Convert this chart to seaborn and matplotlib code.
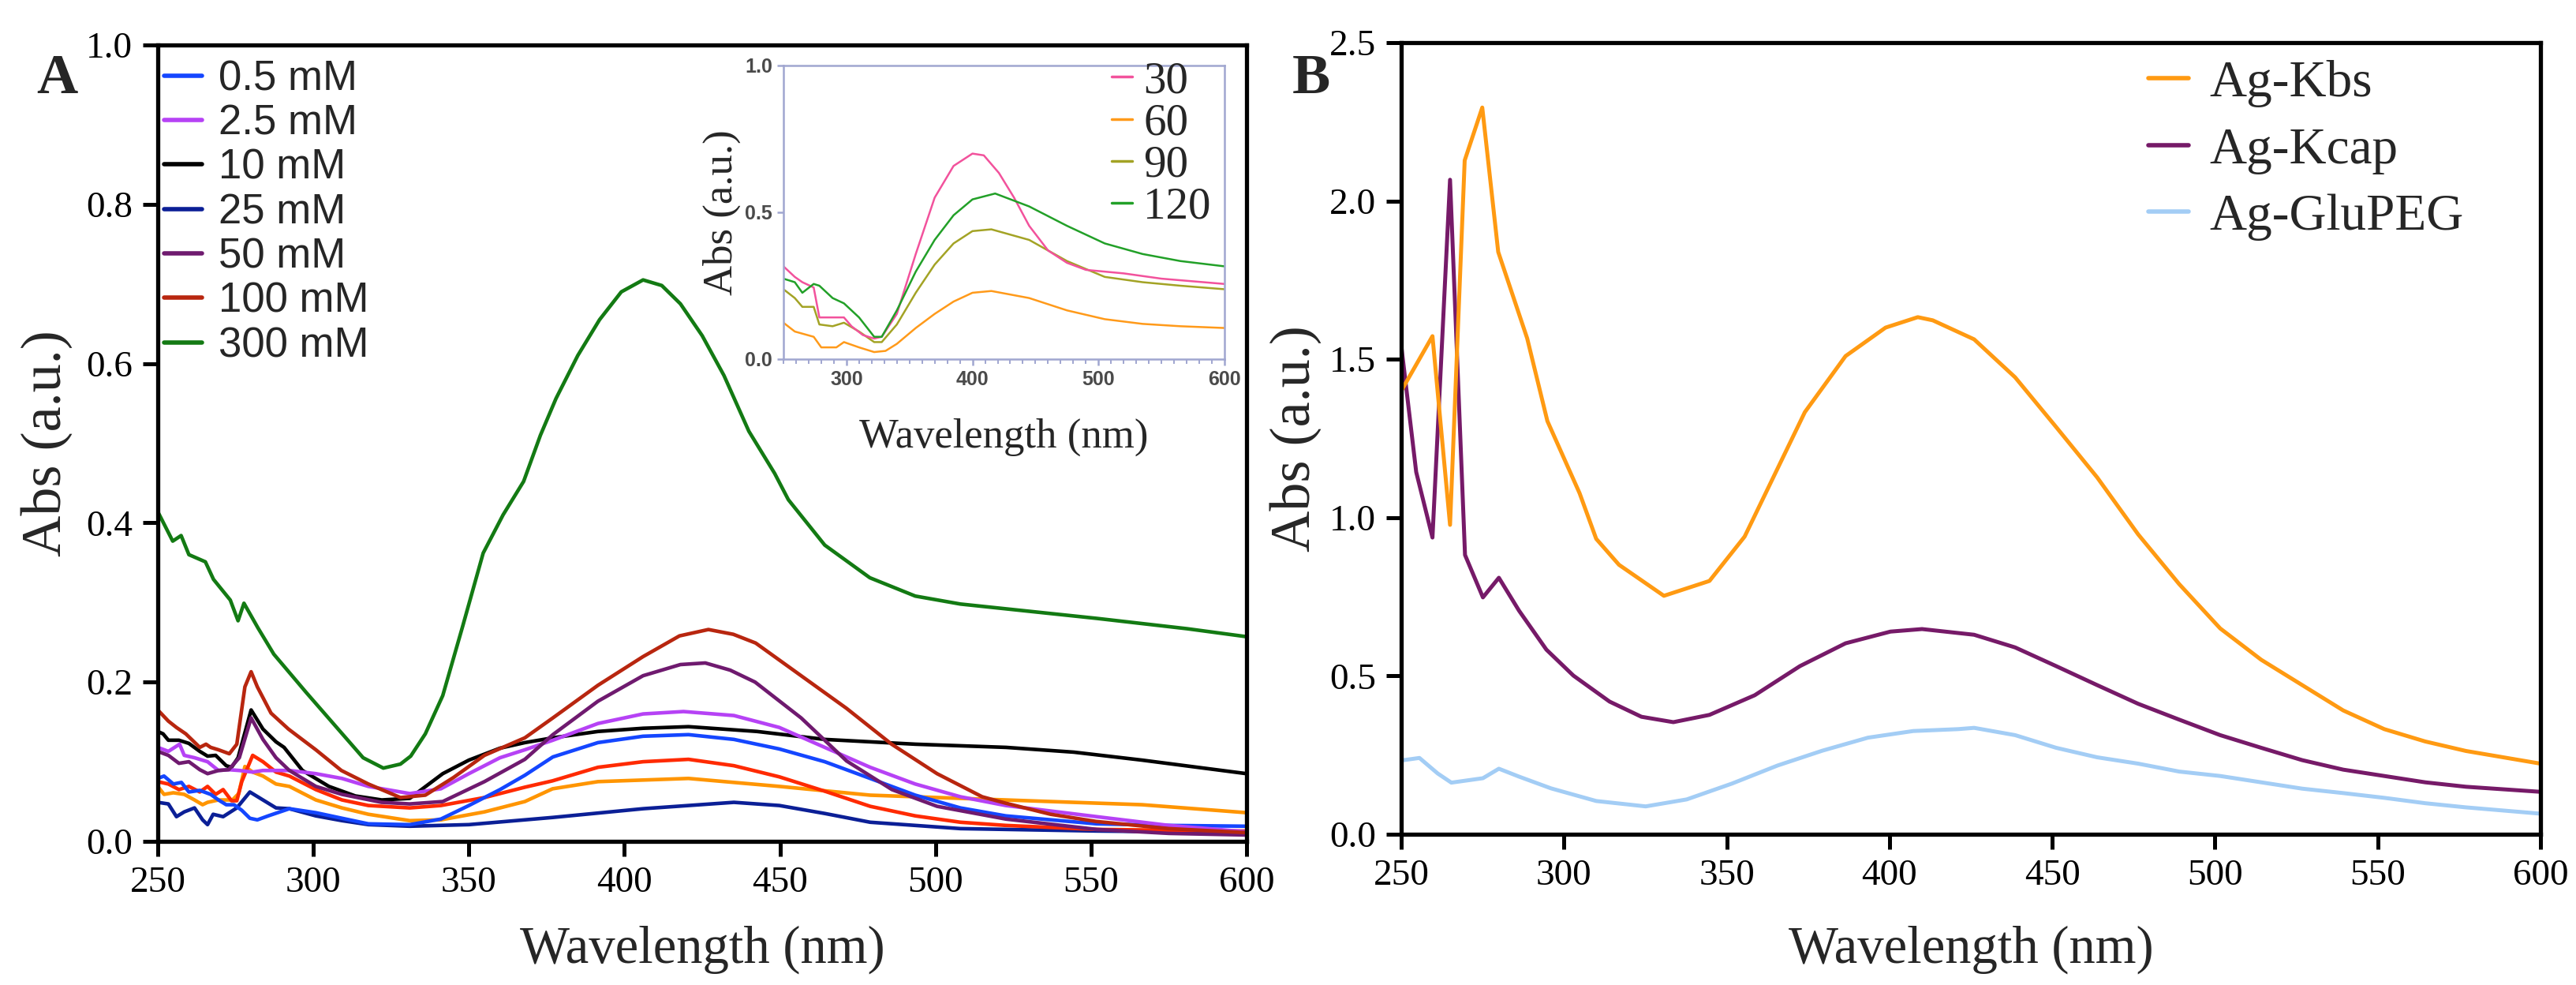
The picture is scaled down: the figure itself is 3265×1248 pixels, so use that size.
import numpy as np
import pandas as pd
import matplotlib
matplotlib.use("Agg")
import matplotlib.pyplot as plt
import seaborn as sns
from matplotlib.lines import Line2D

# ---------------- Panel A data ----------------
wl_300 = [250, 254.8, 257.5, 260, 265.3, 267.9, 273.3, 275.8, 277.7, 282.2, 287.3, 297.7, 309.3, 316, 322.5, 328, 331.3, 336, 341.6, 348, 354.6, 361, 367.6, 373, 378, 385, 392, 399, 406, 412, 418, 425, 432, 440, 448.3, 452.7, 464.4, 478.9, 493.5, 508, 522.6, 551.8, 580.9, 600]
abs_300 = [0.414, 0.377, 0.384, 0.360, 0.351, 0.329, 0.303, 0.277, 0.299, 0.268, 0.235, 0.187, 0.135, 0.105, 0.092, 0.097, 0.107, 0.135, 0.183, 0.270, 0.362, 0.410, 0.452, 0.510, 0.556, 0.610, 0.655, 0.690, 0.705, 0.698, 0.675, 0.635, 0.585, 0.515, 0.462, 0.429, 0.372, 0.331, 0.308, 0.298, 0.292, 0.280, 0.267, 0.257]

wl_100 = [250, 253.4, 256, 259, 263.5, 265.5, 267, 269.5, 273, 275.4, 278, 280, 282, 286.4, 292, 300.8, 309, 317.7, 328, 336, 345, 355, 368, 377, 391.5, 406, 417.7, 427, 435, 442.2, 456.8, 471.4, 485.9, 500.5, 515, 522.5, 537, 551.6, 575, 600]
abs_100 = [0.165, 0.151, 0.143, 0.135, 0.118, 0.122, 0.118, 0.115, 0.110, 0.122, 0.194, 0.213, 0.194, 0.161, 0.141, 0.115, 0.089, 0.072, 0.055, 0.058, 0.080, 0.108, 0.130, 0.155, 0.196, 0.232, 0.258, 0.266, 0.260, 0.249, 0.208, 0.167, 0.122, 0.085, 0.056, 0.048, 0.034, 0.025, 0.016, 0.011]

wl_50 = [250, 253.4, 256.8, 260, 263.5, 266, 269.5, 272.8, 276.2, 280, 283.8, 288, 292.3, 300.8, 309.2, 321.9, 331, 341.6, 355, 368, 377, 391.5, 406, 418, 426, 434, 442, 456.8, 471.4, 486, 500.5, 522.6, 551.8, 575, 600]
abs_50 = [0.113, 0.108, 0.098, 0.100, 0.090, 0.085, 0.089, 0.090, 0.105, 0.155, 0.128, 0.105, 0.089, 0.069, 0.059, 0.049, 0.047, 0.050, 0.075, 0.103, 0.134, 0.176, 0.208, 0.222, 0.224, 0.215, 0.200, 0.155, 0.101, 0.065, 0.044, 0.028, 0.015, 0.010, 0.008]

wl_10 = [250, 251.7, 253.4, 256.8, 260, 263.5, 266, 268.6, 272, 273.7, 275.8, 280, 283.8, 288, 290.6, 296.5, 305, 313.5, 322, 331, 341.6, 350, 360, 368, 377, 391.5, 406, 420.6, 442.6, 464.4, 493.5, 522.7, 544.5, 566.4, 600]
abs_10 = [0.138, 0.135, 0.127, 0.127, 0.123, 0.113, 0.107, 0.108, 0.095, 0.093, 0.105, 0.165, 0.141, 0.125, 0.118, 0.089, 0.069, 0.057, 0.052, 0.054, 0.085, 0.102, 0.117, 0.124, 0.130, 0.138, 0.142, 0.144, 0.138, 0.128, 0.122, 0.118, 0.112, 0.102, 0.085]

wl_2p5 = [250, 253.4, 257, 258.5, 261.8, 266, 269.5, 272.8, 276.2, 280.5, 283.8, 292.3, 300.8, 309.2, 317.7, 331, 341, 350, 360, 368, 377, 391.5, 406, 419, 435.2, 449.8, 464.4, 479, 493.5, 508, 522.6, 551.8, 575, 600]
abs_2p5 = [0.118, 0.113, 0.122, 0.108, 0.105, 0.100, 0.089, 0.090, 0.089, 0.087, 0.089, 0.089, 0.085, 0.079, 0.069, 0.060, 0.066, 0.085, 0.105, 0.115, 0.127, 0.148, 0.160, 0.163, 0.158, 0.143, 0.118, 0.093, 0.072, 0.056, 0.045, 0.031, 0.020, 0.012]

wl_0p5 = [250, 252, 255, 257.6, 260, 263.5, 267, 269.5, 272, 274.5, 277, 279.6, 282, 285.5, 292.3, 300.8, 309.2, 317.7, 331, 341, 350, 360, 368, 377, 391.5, 406, 420.6, 435.2, 449.8, 464.4, 479, 493.5, 508, 522.6, 551.8, 575, 600]
abs_0p5 = [0.079, 0.082, 0.072, 0.074, 0.062, 0.064, 0.059, 0.052, 0.046, 0.046, 0.039, 0.029, 0.027, 0.032, 0.041, 0.036, 0.029, 0.022, 0.021, 0.028, 0.045, 0.065, 0.083, 0.106, 0.124, 0.132, 0.134, 0.128, 0.116, 0.100, 0.079, 0.058, 0.042, 0.032, 0.022, 0.020, 0.019]

wl_25 = [250, 253.4, 256, 258.5, 261.8, 264.4, 266, 267.8, 271, 275.4, 279.6, 283.8, 288, 292.3, 300.8, 309.2, 317.7, 331, 350, 376.9, 406, 435.2, 449.8, 464.4, 479, 508, 551.8, 600]
abs_25 = [0.049, 0.047, 0.031, 0.037, 0.042, 0.027, 0.021, 0.034, 0.031, 0.042, 0.062, 0.052, 0.042, 0.041, 0.032, 0.026, 0.021, 0.019, 0.021, 0.030, 0.041, 0.049, 0.045, 0.035, 0.024, 0.016, 0.013, 0.011]

wl_red = [250, 253.4, 256.8, 260, 263.5, 266, 268.6, 271, 273.7, 275.4, 277, 280.5, 283.8, 288, 292.3, 300.8, 309.2, 317.7, 331, 341, 355, 368, 376.9, 391.5, 406, 420.6, 435.2, 449.8, 464.4, 479, 493.5, 508, 522.6, 551.8, 575, 600]
abs_red = [0.075, 0.072, 0.065, 0.069, 0.062, 0.069, 0.059, 0.065, 0.051, 0.051, 0.075, 0.108, 0.100, 0.087, 0.082, 0.065, 0.052, 0.045, 0.042, 0.045, 0.055, 0.068, 0.076, 0.093, 0.100, 0.103, 0.095, 0.081, 0.063, 0.044, 0.032, 0.024, 0.020, 0.015, 0.014, 0.013]

wl_orange = [250, 252, 255, 258.5, 261.8, 264.4, 266, 269.5, 274, 276, 278, 280.5, 283.8, 288, 292.3, 300.8, 309.2, 317.7, 331, 341, 355, 368, 376.9, 391.5, 420.6, 449.8, 479, 508, 537, 566.4, 600]
abs_orange = [0.069, 0.059, 0.061, 0.059, 0.052, 0.046, 0.049, 0.052, 0.052, 0.060, 0.094, 0.087, 0.082, 0.072, 0.069, 0.052, 0.042, 0.034, 0.026, 0.027, 0.037, 0.050, 0.066, 0.075, 0.079, 0.069, 0.058, 0.054, 0.050, 0.046, 0.036]

# ---------------- Inset data ----------------
wl_i30 = [250, 259, 265, 274, 278.5, 286, 298, 304, 313, 322, 328, 340, 355, 370, 385, 400, 409, 421, 433, 445, 460, 475, 490, 520, 550, 600]
abs_i30 = [0.316, 0.280, 0.262, 0.244, 0.142, 0.142, 0.142, 0.112, 0.082, 0.070, 0.076, 0.154, 0.358, 0.550, 0.658, 0.700, 0.694, 0.634, 0.550, 0.454, 0.370, 0.328, 0.304, 0.292, 0.274, 0.256]
wl_i60 = [250, 259, 274, 280, 292, 298, 310, 322, 331, 340, 355, 370, 385, 400, 415, 445, 475, 505, 535, 565, 600]
abs_i60 = [0.124, 0.094, 0.076, 0.040, 0.040, 0.058, 0.040, 0.024, 0.028, 0.052, 0.106, 0.154, 0.196, 0.226, 0.232, 0.208, 0.166, 0.136, 0.120, 0.112, 0.106]
wl_i90 = [250, 259, 265, 274, 278.5, 289, 298, 310, 322, 328, 340, 355, 370, 385, 400, 415, 445, 475, 505, 535, 565, 600]
abs_i90 = [0.238, 0.208, 0.178, 0.178, 0.118, 0.112, 0.124, 0.094, 0.058, 0.058, 0.118, 0.226, 0.322, 0.394, 0.436, 0.442, 0.406, 0.334, 0.280, 0.262, 0.250, 0.238]
wl_i120 = [250, 259, 265, 274, 278.5, 289, 298, 310, 322, 328, 340, 355, 370, 385, 400, 418, 445, 475, 505, 535, 565, 600]
abs_i120 = [0.274, 0.262, 0.226, 0.256, 0.250, 0.208, 0.190, 0.142, 0.076, 0.076, 0.166, 0.298, 0.406, 0.490, 0.544, 0.564, 0.520, 0.454, 0.394, 0.358, 0.334, 0.316]

# ---------------- Panel B data ----------------
wl_kbs = [250, 259.6, 265, 269.5, 274.9, 279.8, 288.7, 294.9, 304.8, 309.9, 316.9, 330.7, 344.7, 355.5, 374, 386.5, 398.8, 408.7, 413.3, 426, 438.6, 451.2, 463.8, 476.4, 489, 501.6, 514.2, 526.8, 539.4, 552, 564.6, 577.1, 600]
abs_kbs = [1.40, 1.573, 0.977, 2.128, 2.295, 1.839, 1.566, 1.305, 1.077, 0.933, 0.851, 0.753, 0.800, 0.940, 1.333, 1.510, 1.600, 1.633, 1.623, 1.563, 1.443, 1.286, 1.127, 0.947, 0.790, 0.650, 0.551, 0.471, 0.391, 0.332, 0.293, 0.263, 0.223]
wl_kcap = [250, 254.6, 259.6, 265, 269.6, 275.1, 280, 286.2, 294.6, 302.9, 314, 323.8, 333.6, 344.7, 358.6, 372.5, 386.5, 400.3, 410, 426, 438.6, 451.2, 463.8, 476.4, 489, 501.6, 514.2, 526.8, 539.4, 552, 564.6, 577.1, 600]
abs_kcap = [1.544, 1.144, 0.937, 2.067, 0.882, 0.748, 0.810, 0.706, 0.583, 0.501, 0.419, 0.371, 0.354, 0.377, 0.439, 0.531, 0.603, 0.640, 0.648, 0.630, 0.590, 0.531, 0.471, 0.412, 0.362, 0.313, 0.273, 0.234, 0.204, 0.184, 0.164, 0.150, 0.134]
wl_glu = [250, 255.6, 261.2, 265.4, 275.1, 280, 286.2, 296, 309.9, 325.1, 337.7, 351.6, 365.6, 379.4, 393.4, 407.3, 421.1, 426, 438.6, 451.2, 463.8, 476.4, 489, 501.6, 514.2, 526.8, 539.4, 552, 564.6, 577, 600]
abs_glu = [0.233, 0.241, 0.192, 0.163, 0.177, 0.207, 0.182, 0.145, 0.105, 0.088, 0.110, 0.160, 0.217, 0.264, 0.305, 0.326, 0.332, 0.336, 0.313, 0.273, 0.243, 0.223, 0.198, 0.184, 0.164, 0.144, 0.130, 0.115, 0.098, 0.085, 0.065]

labels_A = ["0.5 mM", "2.5 mM", "10 mM", "25 mM", "50 mM", "100 mM", "300 mM"]
labels_inset = ["30", "60", "90", "120"]
labels_B = ["Ag-Kbs", "Ag-Kcap", "Ag-GluPEG"]
xticks = [250, 300, 350, 400, 450, 500, 550, 600]

# ---------------- style ----------------
sns.set_style("white")
plt.rcParams["font.family"] = ["Liberation Serif", "DejaVu Serif"]

W, H = 3265, 1248
fig = plt.figure(figsize=(W / 100, H / 100), dpi=100)

def frac_rect(x0, y0, x1, y1):
    return [x0 / W, 1 - y1 / H, (x1 - x0) / W, (y1 - y0) / H]

axA = fig.add_axes(frac_rect(200, 57, 1580, 1066))
axB = fig.add_axes(frac_rect(1776, 54, 3220, 1057))
axI = fig.add_axes(frac_rect(993, 83, 1552, 455))

def line(ax, x, y, color, lw, z=2):
    df = pd.DataFrame({"wl": x, "abs": y})
    sns.lineplot(data=df, x="wl", y="abs", ax=ax, color=color, lw=lw,
                 estimator=None, sort=False, legend=False, zorder=z)

lwA = 3.3
colA = {"0.5 mM": "#1446ff", "2.5 mM": "#b642f5", "10 mM": "#000000",
        "25 mM": "#0b1f96", "50 mM": "#6f1a6f", "100 mM": "#b8260f",
        "300 mM": "#137a13"}
line(axA, wl_25, abs_25, colA["25 mM"], lwA)
line(axA, wl_orange, abs_orange, "#ff9500", lwA)
line(axA, wl_red, abs_red, "#ff2a00", lwA)
line(axA, wl_0p5, abs_0p5, colA["0.5 mM"], lwA)
line(axA, wl_10, abs_10, colA["10 mM"], lwA)
line(axA, wl_2p5, abs_2p5, colA["2.5 mM"], lwA)
line(axA, wl_50, abs_50, colA["50 mM"], lwA)
line(axA, wl_100, abs_100, colA["100 mM"], lwA)
line(axA, wl_300, abs_300, colA["300 mM"], lwA)

handlesA = [Line2D([], [], color=colA[l], lw=4) for l in labels_A]
axA.legend(handlesA, labels_A, loc="upper left", bbox_to_anchor=(0.006, 0.982),
           frameon=False, borderpad=0, borderaxespad=0, handlelength=0.9,
           handletextpad=0.4, labelspacing=0.12,
           prop={"family": "Liberation Sans", "size": 38})

colB = ["#ff9a12", "#761a68", "#a3cdf5"]
line(axB, wl_glu, abs_glu, colB[2], 3.6)
line(axB, wl_kcap, abs_kcap, colB[1], 3.6)
line(axB, wl_kbs, abs_kbs, colB[0], 3.6)
handlesB = [Line2D([], [], color=c, lw=4) for c in colB]
axB.legend(handlesB, labels_B, loc="upper left", bbox_to_anchor=(0.656, 0.978),
           frameon=False, borderpad=0, borderaxespad=0, handlelength=0.78,
           handletextpad=0.4, labelspacing=0.38,
           prop={"family": "Liberation Serif", "size": 47})

colI = ["#f2529c", "#ff9a1a", "#a3a325", "#22a028"]
line(axI, wl_i60, abs_i60, colI[1], 1.8)
line(axI, wl_i90, abs_i90, colI[2], 1.8)
line(axI, wl_i30, abs_i30, colI[0], 1.8)
line(axI, wl_i120, abs_i120, colI[3], 1.8)
handlesI = [Line2D([], [], color=c, lw=2.5) for c in colI]
axI.legend(handlesI, labels_inset, loc="upper left", bbox_to_anchor=(0.745, 1.015),
           frameon=False, borderpad=0, borderaxespad=0, handlelength=0.45,
           handletextpad=0.25, labelspacing=0.02,
           prop={"family": "Liberation Serif", "size": 41})

# --- main axes formatting
for ax, ylim, yticks in [(axA, (0, 1.0), np.arange(0, 1.01, 0.2)),
                         (axB, (0, 2.5), np.arange(0, 2.51, 0.5))]:
    ax.set_xlim(250, 600)
    ax.set_ylim(*ylim)
    ax.set_xticks(xticks)
    ax.set_xticklabels([str(t) for t in xticks])
    ax.set_yticks(yticks)
    ax.set_yticklabels([f"{t:.1f}" for t in yticks])
    for s in ax.spines.values():
        s.set_visible(True)
        s.set_linewidth(3.8)
        s.set_color("black")
    ax.tick_params(axis="both", which="major", direction="out", length=14, width=3.6,
                   labelsize=34, colors="black", pad=9, left=True, bottom=True)
    for t in ax.get_xticklabels() + ax.get_yticklabels():
        t.set_fontfamily("Liberation Serif")
    ax.set_xlabel("Wavelength (nm)", fontsize=48, fontfamily="Liberation Serif")
    ax.set_ylabel("Abs (a.u.)", fontsize=52, fontfamily="Liberation Serif")

axA.xaxis.set_label_coords(0.5, -0.105)
axA.yaxis.set_label_coords(-0.078, 0.5)
axB.xaxis.set_label_coords(0.5, -0.115)
axB.yaxis.set_label_coords(-0.07, 0.5)

# --- inset formatting
icol = "#a0a6d0"
axI.set_xlim(250, 600)
axI.set_ylim(0, 1.0)
axI.set_xticks([300, 400, 500, 600])
axI.set_xticks(np.arange(250, 601, 10), minor=True)
axI.set_yticks([0, 0.5, 1.0])
axI.set_yticklabels(["0.0", "0.5", "1.0"])
axI.set_xticklabels(["300", "400", "500", "600"])
for s in axI.spines.values():
    s.set_visible(True)
    s.set_linewidth(1.8)
    s.set_color(icol)
axI.tick_params(axis="both", which="major", direction="out", length=6, width=1.8,
                color=icol, labelcolor="#4a4a4a", labelsize=18, pad=4, left=True, bottom=True)
axI.tick_params(axis="x", which="minor", direction="out", length=4, width=1.4,
                color=icol, bottom=True)
for t in axI.get_xticklabels() + axI.get_yticklabels():
    t.set_fontfamily("Liberation Sans")
    t.set_fontweight("bold")
axI.set_xlabel("Wavelength (nm)", fontsize=38, fontfamily="Liberation Serif")
axI.set_ylabel("Abs (a.u.)", fontsize=38, fontfamily="Liberation Serif")
axI.xaxis.set_label_coords(0.5, -0.2)
axI.yaxis.set_label_coords(-0.097, 0.5)

# panel letters
fig.text(72 / W, 1 - 101 / H, "A", fontsize=52, fontweight="bold", ha="center", va="center",
         fontfamily="Liberation Serif")
fig.text(1662 / W, 1 - 100 / H, "B", fontsize=52, fontweight="bold", ha="center", va="center",
         fontfamily="Liberation Serif")

fig.savefig("out.png", dpi=100)
